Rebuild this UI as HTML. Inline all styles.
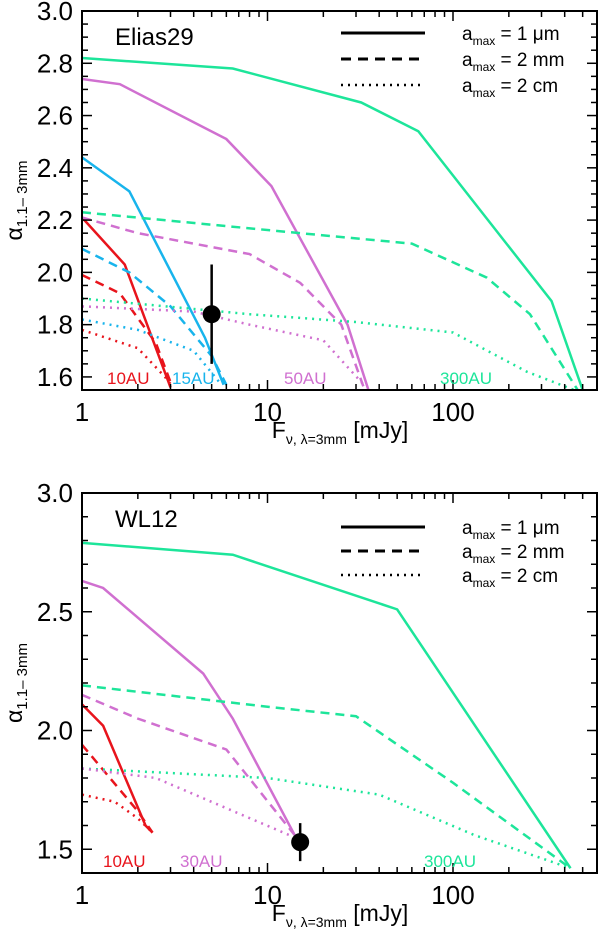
<!DOCTYPE html>
<html><head><meta charset="utf-8"><style>
body{margin:0;background:#fff;}
svg{display:block;font-family:"Liberation Sans",sans-serif;}
</style></head><body>
<svg id="chart" width="600" height="931"></svg>
<script>
const NS="http://www.w3.org/2000/svg";
const svg=document.getElementById('chart');
// ---- data: top panel (Elias29) ----
const topGreenSolidF=[1,6.5,32,65,340,500];
const topGreenSolidA=[2.82,2.78,2.65,2.54,1.89,1.55];
const topPurpleSolidF=[1,1.6,6,10.5,27,35];
const topPurpleSolidA=[2.74,2.72,2.51,2.33,1.8,1.55];
const topBlueSolidF=[1,1.8,4.6,5.8];
const topBlueSolidA=[2.44,2.31,1.75,1.57];
const topRedSolidF=[1,1.7,3.0];
const topRedSolidA=[2.21,2.03,1.56];
const topGreenDashF=[1,15,60,152,260,470];
const topGreenDashA=[2.23,2.15,2.11,1.98,1.84,1.55];
const topPurpleDashF=[1,2,8,15,25,33];
const topPurpleDashA=[2.21,2.15,2.07,1.96,1.8,1.56];
const topBlueDashF=[1,1.8,3,5,6];
const topBlueDashA=[2.09,2.0,1.87,1.68,1.57];
const topRedDashF=[1,1.6,2.5,3];
const topRedDashA=[1.99,1.92,1.73,1.58];
const topGreenDotF=[1,8,30,100,250,450];
const topGreenDotA=[1.90,1.84,1.81,1.77,1.62,1.55];
const topPurpleDotF=[1,4,8,20,33];
const topPurpleDotA=[1.87,1.85,1.8,1.74,1.57];
const topBlueDotF=[1,2,4,5.5];
const topBlueDotA=[1.82,1.78,1.70,1.58];
const topRedDotF=[1,2,2.8,3.1];
const topRedDotA=[1.78,1.71,1.6,1.56];
const topPointF=[5.0];const topPointA=[1.84];const topPointLo=[1.65];const topPointHi=[2.03];
// ---- data: bottom panel (WL12) ----
const botGreenSolidF=[1,6.5,50,430];
const botGreenSolidA=[2.79,2.74,2.51,1.42];
const botPurpleSolidF=[1,1.3,4.5,6.5,14];
const botPurpleSolidA=[2.63,2.6,2.24,2.05,1.56];
const botRedSolidF=[1,1.3,2.2,2.4];
const botRedSolidA=[2.11,2.02,1.6,1.57];
const botGreenDashF=[1,10,30,100,430];
const botGreenDashA=[2.19,2.1,2.06,1.78,1.42];
const botPurpleDashF=[1,2,6,14];
const botPurpleDashA=[2.15,2.05,1.92,1.56];
const botRedDashF=[1,2,2.4];
const botRedDashA=[1.94,1.66,1.57];
const botGreenDotF=[1,10,40,130,430];
const botGreenDotA=[1.84,1.8,1.73,1.56,1.42];
const botPurpleDotF=[1,2.5,14];
const botPurpleDotA=[1.84,1.80,1.55];
const botRedDotF=[1,1.5,2,2.4];
const botRedDotA=[1.73,1.7,1.63,1.57];
const botPointF=[15];const botPointA=[1.53];const botPointLo=[1.45];const botPointHi=[1.61];
const xTickLabels=['1','10','100'];

const GREEN='#1de59a',PURPLE='#d070d0',BLUE='#18b4ec',RED='#e8141c';
function el(tag,attrs,parent){const e=document.createElementNS(NS,tag);for(const k in attrs)e.setAttribute(k,attrs[k]);(parent||svg).appendChild(e);return e;}

function panel(cfg){
  const L=82,R=597,T=cfg.top,B=cfg.bottom;
  const xs=f=>L+185.5*Math.log10(f);
  const ys=a=>B-(a-cfg.ymin)/(cfg.ymax-cfg.ymin)*(B-T);
  const g=el('g',{});
  
  
  const clip=el('clipPath',{id:cfg.name+'-clip'},g);
  el('rect',{x:L,y:T,width:R-L,height:B-T},clip);
  const lines=el('g',{'clip-path':'url(#'+cfg.name+'-clip)'},g);
  
  
  cfg.series.forEach(s=>{
    const p=el('polyline',{points:s.f.map((f,i)=>xs(f)+','+ys(s.a[i])).join(' '),fill:'none',stroke:s.c,'stroke-width':2.5,'stroke-dasharray':s.d||'none'},lines);
    
    
  });
  cfg.pt.f.forEach((f,i)=>{
    const eb=el('line',{x1:xs(f),x2:xs(f),y1:ys(cfg.pt.lo[i]),y2:ys(cfg.pt.hi[i]),stroke:'#000','stroke-width':2.5},g);
    
    
    const c=el('circle',{cx:xs(f),cy:ys(cfg.pt.a[i]),r:9,fill:'#000'},g);
    
    
  });
  const fr=el('rect',{x:L,y:T,width:R-L,height:B-T,fill:'none',stroke:'#000','stroke-width':2},g);
  
  
  for(let d=0;d<3;d++)for(let m=1;m<10;m++){
    const v=m*Math.pow(10,d);const x=xs(v);if(x>R)continue;
    const len=m===1?10:6;
    el('line',{x1:x,x2:x,y1:B,y2:B-len,stroke:'#000','stroke-width':1.5},g);
    el('line',{x1:x,x2:x,y1:T,y2:T+len,stroke:'#000','stroke-width':1.5},g);
  }
  xTickLabels.forEach((t,i)=>{
    const tx=el('text',{x:xs(Math.pow(10,i)),y:B+31,'font-size':26,'text-anchor':'middle'},g);
    tx.textContent=t;
    
    
  });
  const n=Math.round((cfg.ymax-cfg.ymin)/cfg.minor);
  for(let i=0;i<=n;i++){
    const v=cfg.ymin+i*cfg.minor;const y=ys(v);
    const isMaj=Math.abs(v/cfg.major-Math.round(v/cfg.major))<1e-6;
    const len=isMaj?10:6;
    el('line',{x1:L,x2:L+len,y1:y,y2:y,stroke:'#000','stroke-width':1.5},g);
    el('line',{x1:R,x2:R-len,y1:y,y2:y,stroke:'#000','stroke-width':1.5},g);
    if(isMaj){
      const tx=el('text',{x:L-9,y:y+9,'font-size':26,'text-anchor':'end'},g);
      tx.textContent=v.toFixed(1);
      
      
    }
  }
  const yt=el('text',{transform:'translate(22,'+((T+B)/2)+') rotate(-90)','text-anchor':'middle','font-size':23},g);
  yt.innerHTML='α<tspan font-size="15" dy="5">1.1– 3mm</tspan>';
  
  
  const xt=el('text',{x:340,y:B+48,'text-anchor':'middle','font-size':23},g);
  xt.innerHTML='F<tspan font-size="14" dy="6">ν, λ=3mm</tspan><tspan dy="-6">  [mJy]</tspan>';
  
  
  const nm=el('text',{x:115,y:T+34,'font-size':24},g);
  nm.textContent=cfg.label;
  
  
  const lg=el('g',{},g);
  
  
  const ls=[['none','1  μm'],['10,7','2 mm'],['2,5','2 cm']];
  ls.forEach((l,i)=>{
    const y=cfg.legY+i*cfg.legDy;
    el('line',{x1:341,x2:425,y1:y,y2:y,stroke:'#000','stroke-width':l[0]==='2,5'?2.5:3,'stroke-dasharray':l[0]},lg);
    const t=el('text',{x:462,y:y+7,'font-size':19},lg);
    t.innerHTML='a<tspan font-size="12" dy="5">max</tspan><tspan dy="-5"> = '+l[1]+'</tspan>';
    
    
  });
  cfg.labels.forEach(l=>{
    const t=el('text',{x:l[0],y:B-6,'font-size':17,fill:l[2]},g);
    t.textContent=l[1];
    
    
  });
}
panel({name:'elias29-panel',label:'Elias29',top:11,bottom:390,ymin:1.55,ymax:3.0,major:0.2,minor:0.05,legY:33,legDy:26,
 series:[
  {f:topGreenSolidF,a:topGreenSolidA,c:GREEN,n:'green-300au-1um'},
  {f:topPurpleSolidF,a:topPurpleSolidA,c:PURPLE,n:'purple-50au-1um'},
  {f:topBlueSolidF,a:topBlueSolidA,c:BLUE,n:'blue-15au-1um'},
  {f:topRedSolidF,a:topRedSolidA,c:RED,n:'red-10au-1um'},
  {f:topGreenDashF,a:topGreenDashA,c:GREEN,d:'9,6',n:'green-300au-2mm'},
  {f:topPurpleDashF,a:topPurpleDashA,c:PURPLE,d:'9,6',n:'purple-50au-2mm'},
  {f:topBlueDashF,a:topBlueDashA,c:BLUE,d:'9,6',n:'blue-15au-2mm'},
  {f:topRedDashF,a:topRedDashA,c:RED,d:'9,6',n:'red-10au-2mm'},
  {f:topGreenDotF,a:topGreenDotA,c:GREEN,d:'2,5',n:'green-300au-2cm'},
  {f:topPurpleDotF,a:topPurpleDotA,c:PURPLE,d:'2,5',n:'purple-50au-2cm'},
  {f:topBlueDotF,a:topBlueDotA,c:BLUE,d:'2,5',n:'blue-15au-2cm'},
  {f:topRedDotF,a:topRedDotA,c:RED,d:'2,5',n:'red-10au-2cm'}],
 pt:{f:topPointF,a:topPointA,lo:topPointLo,hi:topPointHi},
 labels:[[107,'10AU',RED],[172,'15AU',BLUE],[284,'50AU',PURPLE],[440,'300AU',GREEN]]});
panel({name:'wl12-panel',label:'WL12',top:493,bottom:873,ymin:1.4,ymax:3.0,major:0.5,minor:0.1,legY:527,legDy:24,
 series:[
  {f:botGreenSolidF,a:botGreenSolidA,c:GREEN,n:'green-300au-1um'},
  {f:botPurpleSolidF,a:botPurpleSolidA,c:PURPLE,n:'purple-30au-1um'},
  {f:botRedSolidF,a:botRedSolidA,c:RED,n:'red-10au-1um'},
  {f:botGreenDashF,a:botGreenDashA,c:GREEN,d:'9,6',n:'green-300au-2mm'},
  {f:botPurpleDashF,a:botPurpleDashA,c:PURPLE,d:'9,6',n:'purple-30au-2mm'},
  {f:botRedDashF,a:botRedDashA,c:RED,d:'9,6',n:'red-10au-2mm'},
  {f:botGreenDotF,a:botGreenDotA,c:GREEN,d:'2,5',n:'green-300au-2cm'},
  {f:botPurpleDotF,a:botPurpleDotA,c:PURPLE,d:'2,5',n:'purple-30au-2cm'},
  {f:botRedDotF,a:botRedDotA,c:RED,d:'2,5',n:'red-10au-2cm'}],
 pt:{f:botPointF,a:botPointA,lo:botPointLo,hi:botPointHi},
 labels:[[103,'10AU',RED],[180,'30AU',PURPLE],[424,'300AU',GREEN]]});
</script>
</body></html>
